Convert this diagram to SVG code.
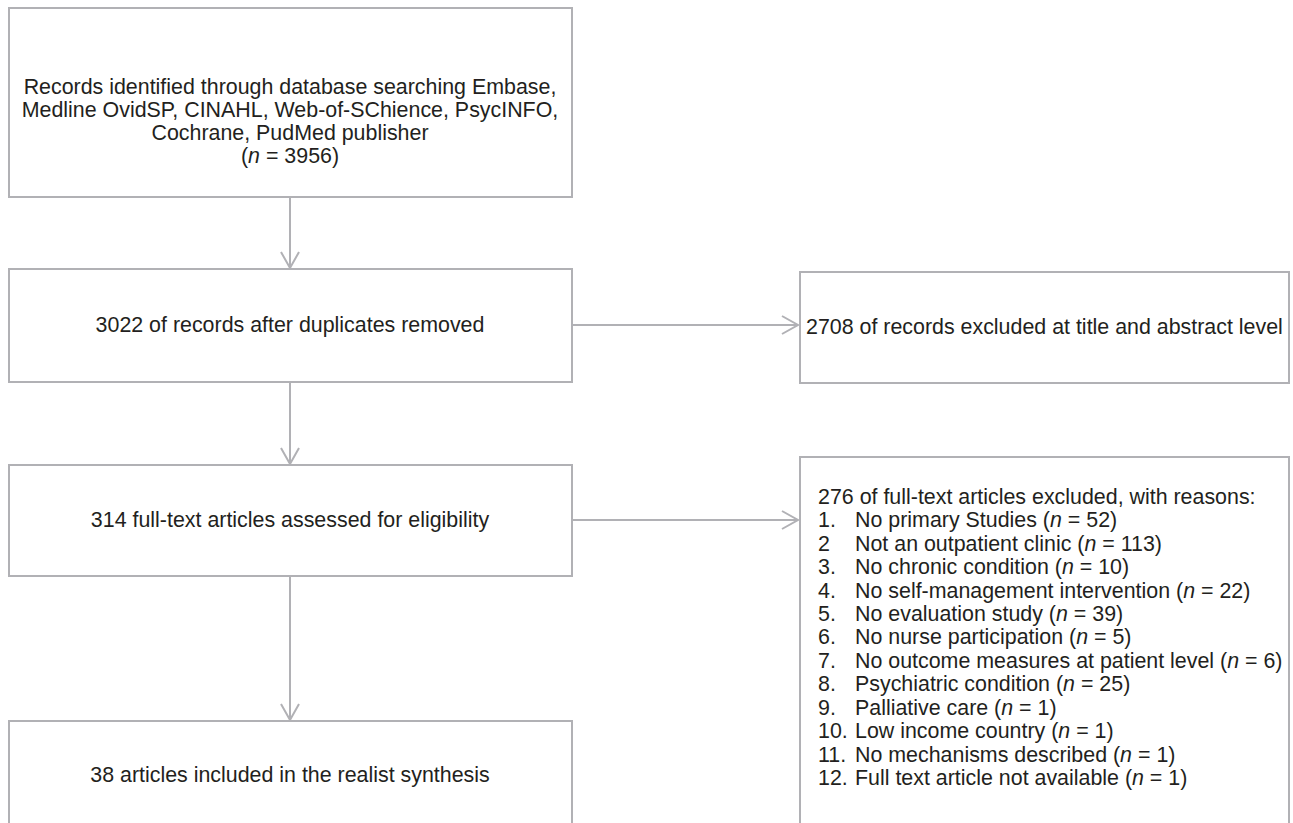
<svg xmlns="http://www.w3.org/2000/svg" width="1293" height="823" viewBox="0 0 1293 823">
<style>
.box{fill:#fff;stroke:#b1b1b5;stroke-width:2}
.con{fill:none;stroke:#b1b1b5;stroke-width:2}
text{font-family:"Liberation Sans",Arial,Helvetica,sans-serif;font-size:21.4px;fill:#231f20}
.c{text-anchor:middle}
.i{font-style:italic}
</style>
<defs>
<marker id="chev" markerUnits="userSpaceOnUse" markerWidth="20" markerHeight="22" refX="17" refY="10" orient="auto">
<path d="M1,1 L17,10 L1,19" fill="none" stroke="#b1b1b5" stroke-width="2"/>
</marker>
</defs>
<rect width="1293" height="823" fill="#fff"/>
<g id="connectors">
<line class="con" x1="290" y1="197" x2="290" y2="268" marker-end="url(#chev)"/>
<line class="con" x1="290" y1="382" x2="290" y2="464" marker-end="url(#chev)"/>
<line class="con" x1="290" y1="576" x2="290" y2="720" marker-end="url(#chev)"/>
<line class="con" x1="572" y1="325" x2="798" y2="325" marker-end="url(#chev)"/>
<line class="con" x1="572" y1="520" x2="798" y2="520" marker-end="url(#chev)"/>
</g>
<g id="records">
<rect class="box" x="9" y="8" width="563" height="189"/>
<text class="c" x="290" y="94">Records identified through database searching Embase,</text>
<text class="c" x="290" y="117">Medline OvidSP, CINAHL, Web-of-SChience, PsycINFO,</text>
<text class="c" x="290" y="140">Cochrane, PudMed publisher</text>
<text class="c" x="290" y="163">(<tspan class="i">n</tspan> = 3956)</text>
</g>
<g id="dedup">
<rect class="box" x="9" y="269" width="563" height="113"/>
<text class="c" x="290" y="332">3022 of records after duplicates removed</text>
</g>
<g id="excluded1">
<rect class="box" x="800" y="272" width="489" height="111"/>
<text x="806" y="334">2708 of records excluded at title and abstract level</text>
</g>
<g id="fulltext">
<rect class="box" x="9" y="465" width="563" height="111"/>
<text class="c" x="290" y="527">314 full-text articles assessed for eligibility</text>
</g>
<g id="excluded2">
<rect class="box" x="800" y="457" width="489" height="390"/>
<text x="818" y="504">276 of full-text articles excluded, with reasons:</text>
<text x="818" y="527">1.</text><text x="855" y="527">No primary Studies (<tspan class="i">n</tspan> = 52)</text>
<text x="818" y="551">2</text><text x="855" y="551">Not an outpatient clinic (<tspan class="i">n</tspan> = 113)</text>
<text x="818" y="574">3.</text><text x="855" y="574">No chronic condition (<tspan class="i">n</tspan> = 10)</text>
<text x="818" y="598">4.</text><text x="855" y="598">No self-management intervention (<tspan class="i">n</tspan> = 22)</text>
<text x="818" y="621">5.</text><text x="855" y="621">No evaluation study (<tspan class="i">n</tspan> = 39)</text>
<text x="818" y="644">6.</text><text x="855" y="644">No nurse participation (<tspan class="i">n</tspan> = 5)</text>
<text x="818" y="668">7.</text><text x="855" y="668">No outcome measures at patient level (<tspan class="i">n</tspan> = 6)</text>
<text x="818" y="691">8.</text><text x="855" y="691">Psychiatric condition (<tspan class="i">n</tspan> = 25)</text>
<text x="818" y="715">9.</text><text x="855" y="715">Palliative care (<tspan class="i">n</tspan> = 1)</text>
<text x="818" y="738">10.</text><text x="855" y="738">Low income country (<tspan class="i">n</tspan> = 1)</text>
<text x="818" y="762">11.</text><text x="855" y="762">No mechanisms described (<tspan class="i">n</tspan> = 1)</text>
<text x="818" y="785">12.</text><text x="855" y="785">Full text article not available (<tspan class="i">n</tspan> = 1)</text>
</g>
<g id="included">
<rect class="box" x="9" y="721" width="563" height="126"/>
<text class="c" x="290" y="782">38 articles included in the realist synthesis</text>
</g>
</svg>
